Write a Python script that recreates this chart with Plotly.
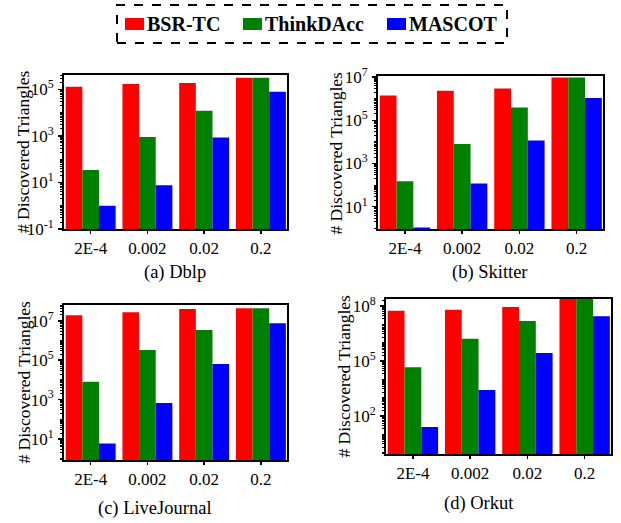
import plotly.graph_objects as go
import numpy as np

categories = ["2E-4", "0.002", "0.02", "0.2"]
series_names = ["BSR-TC", "ThinkDAcc", "MASCOT"]
series_colors = ["#ff0000", "#008000", "#0000ff"]

# values per dataset: [BSR-TC, ThinkDAcc, MASCOT], each across categories
dblp = [[1.3e5, 1.7e5, 1.9e5, 3.2e5],
        [34, 900, 1.2e4, 3.2e5],
        [1.0, 7.6, 850, 8.0e4]]
skitter = [[1.4e6, 2.3e6, 3.0e6, 9.5e6],
           [150, 8.0e3, 3.9e5, 9.5e6],
           [1.1, 120, 1.15e4, 1.07e6]]
livejournal = [[1.9e7, 2.7e7, 3.9e7, 4.3e7],
               [8.2e3, 3.3e5, 3.4e6, 4.3e7],
               [6.0, 670, 6.5e4, 7.4e6]]
orkut = [[5.3e7, 6.0e7, 8.5e7, 2.5e8],
         [4.5e4, 1.6e6, 1.5e7, 2.5e8],
         [25, 2.6e3, 2.7e5, 2.7e7]]

captions = ["(a) Dblp", "(b) Skitter", "(c) LiveJournal", "(d) Orkut"]
y_title = "# Discovered Triangles"

W, H = 621, 523
FONT = "'Liberation Serif', 'Times New Roman', Times, serif"

panels = [
    dict(data=dblp, px=(64, 287), py=(75, 229), yr=(-1, 5.62), major=[-1, 1, 3, 5],
         cap=(175, 272), tit=23),
    dict(data=skitter, px=(378, 603), py=(76, 229), yr=(-0.03, 7.05), major=[1, 3, 5, 7],
         cap=(490, 272), tit=335),
    dict(data=livejournal, px=(64, 287), py=(305, 460), yr=(-0.06, 7.8), major=[1, 3, 5, 7],
         cap=(155, 508), tit=23),
    dict(data=orkut, px=(386, 611), py=(299, 454), yr=(-0.07, 8.37), major=[2, 5, 8],
         cap=(479, 503), tit=343),
]

fig = go.Figure()
annotations = []
shapes = []
layout_axes = {}
for i, p in enumerate(panels):
    sfx = "" if i == 0 else str(i + 1)
    xa, ya = "x" + sfx, "y" + sfx
    for s in range(3):
        fig.add_trace(go.Bar(x=categories, y=p["data"][s], name=series_names[s],
                             marker=dict(color=series_colors[s], line=dict(width=0)),
                             xaxis=xa, yaxis=ya, showlegend=False))
    xd = [p["px"][0] / W, p["px"][1] / W]
    yd = [1 - p["py"][1] / H, 1 - p["py"][0] / H]
    lo, hi = int(np.floor(p["yr"][0])), int(np.ceil(p["yr"][1]))
    minor_vals = [m * 10.0 ** d for d in range(lo - 1, hi + 1) for m in range(1, 10)
                  if not (m == 1 and d in p["major"])]
    layout_axes["xaxis" + sfx] = dict(
        domain=xd, anchor=ya, type="category", range=[-0.47, 3.46],
        showline=True, linecolor="black", linewidth=2, mirror=True,
        ticks="outside", ticklen=3, tickwidth=1.5, tickcolor="black",
        tickfont=dict(family=FONT, size=17, color="black"), showgrid=False,
        automargin=False)
    layout_axes["yaxis" + sfx] = dict(
        domain=yd, anchor=xa, type="log", range=list(p["yr"]),
        showline=True, linecolor="black", linewidth=2, mirror=True,
        ticks="outside", ticklen=4, tickwidth=1.5, tickcolor="black",
        tickmode="array", tickvals=[10.0 ** d for d in p["major"]],
        ticktext=["10<sup>%d</sup>" % d for d in p["major"]],
        minor=dict(tickmode="array", tickvals=minor_vals, ticks="outside",
                   ticklen=2, tickwidth=1, tickcolor="black", showgrid=False),
        tickfont=dict(family=FONT, size=17, color="black"), showgrid=False,
        ticklabelstandoff=1, automargin=False)
    annotations.append(dict(text=captions[i], x=p["cap"][0] / W, y=1 - p["cap"][1] / H,
                            xref="paper", yref="paper", showarrow=False,
                            xanchor="center", yanchor="middle",
                            font=dict(family=FONT, size=18.5, color="black")))
    annotations.append(dict(text=y_title, x=p["tit"] / W,
                            y=1 - ((p["py"][0] + p["py"][1]) / 2) / H,
                            xref="paper", yref="paper", showarrow=False, textangle=-90,
                            xanchor="center", yanchor="middle",
                            font=dict(family=FONT, size=17.5, color="black")))

# legend (drawn manually to match the compact swatch/text spacing)
legend_swatch_x = [125, 243, 387]
for s in range(3):
    x0 = legend_swatch_x[s]
    shapes.append(dict(type="rect", xref="paper", yref="paper",
                       x0=x0 / W, x1=(x0 + 19) / W, y0=1 - 30 / H, y1=1 - 18 / H,
                       fillcolor=series_colors[s], line=dict(width=0)))
    annotations.append(dict(text="<b>%s</b>" % series_names[s], x=(x0 + 20) / W,
                            y=1 - 24 / H, xref="paper", yref="paper", showarrow=False,
                            xanchor="left", yanchor="middle",
                            font=dict(family=FONT, size=20, color="black")))
shapes.append(dict(type="rect", xref="paper", yref="paper",
                   x0=117 / W, x1=507 / W, y0=1 - 43 / H, y1=1 - 5 / H,
                   line=dict(color="black", width=2, dash="dash")))

fig.update_layout(
    width=W, height=H, margin=dict(l=0, r=0, t=0, b=0, autoexpand=False),
    paper_bgcolor="white", plot_bgcolor="white",
    font=dict(family=FONT, color="black"),
    barmode="group", bargap=0.12, bargroupgap=0,
    showlegend=False, hovermode=False,
    annotations=annotations,
    shapes=shapes,
    **layout_axes,
)
fig.write_html("out.html", config={"displayModeBar": False, "staticPlot": True},
               post_script="document.body.style.margin='0px';document.body.style.overflow='hidden';")
